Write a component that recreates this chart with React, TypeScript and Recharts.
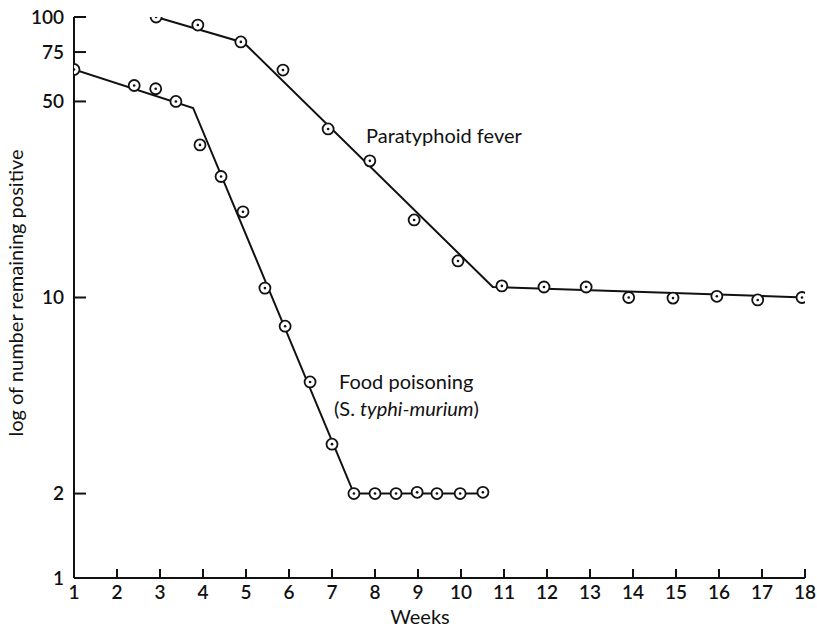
import React from 'react';
import { ComposedChart, Line, Scatter, XAxis, YAxis } from 'recharts';

// observed points (weeks, number remaining positive)
const foodWeeks = [1, 2.4, 2.9, 3.37, 3.93, 4.42, 4.93, 5.44, 5.91, 6.49, 7.0, 7.51, 8.0, 8.49, 8.98, 9.44, 9.98, 10.51];
const foodValues = [65, 57, 55.5, 50, 35, 27, 20.2, 10.8, 7.9, 5.0, 3.0, 2.0, 2.0, 2.0, 2.02, 2.0, 2.0, 2.02];

const paraWeeks = [2.91, 3.88, 4.88, 5.86, 6.91, 7.88, 8.91, 9.93, 10.95, 11.93, 12.91, 13.9, 14.93, 15.95, 16.9, 17.93];
const paraValues = [100, 93.6, 81.5, 64.7, 39.9, 30.7, 18.9, 13.5, 11.0, 10.9, 10.9, 10.0, 9.95, 10.1, 9.8, 10.0];

// fitted broken lines
const foodFitWeeks = [1, 3.77, 7.51, 10.51];
const foodFitValues = [65, 47.4, 2.0, 2.0];
const paraFitWeeks = [2.91, 4.95, 10.74, 18];
const paraFitValues = [100, 81, 10.9, 10.0];

const xTicks = [1, 2, 3, 4, 5, 6, 7, 8, 9, 10, 11, 12, 13, 14, 15, 16, 17, 18];
const yTicks = [1, 2, 10, 50, 75, 100];

const toRows = (w: number[], v: number[]) => w.map((wk, i) => ({ w: wk, v: v[i] }));

const font = 'Lato, "Open Sans", sans-serif';

const Marker = (props: any) => {
  const { cx, cy } = props;
  if (cx == null || cy == null) return null;
  return (
    <g>
      <circle cx={cx} cy={cy} r={5.5} fill="#fff" stroke="#111" strokeWidth={1.8} />
      <circle cx={cx} cy={cy} r={1.3} fill="#111" />
    </g>
  );
};

const tickStyle = { fontSize: 19, fill: '#111', fontFamily: font, fontWeight: 600 };

export default function App() {
  return (
    <div style={{ position: 'absolute', left: 0, top: 0, width: 817, height: 628, background: '#fff', fontFamily: font, color: '#111', overflow: 'hidden' }}>
      <ComposedChart width={817} height={628} margin={{ top: 17, right: 12, bottom: 10, left: 14 }}>
        <XAxis
          type="number"
          dataKey="w"
          domain={[1, 18]}
          ticks={xTicks}
          interval={0}
          allowDataOverflow
          stroke="#111"
          strokeWidth={2}
          tickSize={-9}
          tickMargin={17}
          tick={tickStyle}
          height={40}
        />
        <YAxis
          type="number"
          dataKey="v"
          scale="log"
          domain={[1, 100]}
          ticks={yTicks}
          interval={0}
          allowDataOverflow
          stroke="#111"
          strokeWidth={2}
          tickSize={-12}
          tickMargin={22}
          tick={tickStyle}
          width={60}
        />
        <Line data={toRows(foodFitWeeks, foodFitValues)} dataKey="v" type="linear" stroke="#111" strokeWidth={2} dot={false} isAnimationActive={false} />
        <Line data={toRows(paraFitWeeks, paraFitValues)} dataKey="v" type="linear" stroke="#111" strokeWidth={2} dot={false} isAnimationActive={false} />
        <Scatter data={toRows(foodWeeks, foodValues)} dataKey="v" shape={Marker} isAnimationActive={false} />
        <Scatter data={toRows(paraWeeks, paraValues)} dataKey="v" shape={Marker} isAnimationActive={false} />
      </ComposedChart>

      <div style={{ position: 'absolute', left: 15, top: 293, transform: 'translate(-50%, -50%) rotate(-90deg)', whiteSpace: 'nowrap', fontSize: 20, lineHeight: 1 }}>
        log of number remaining positive
      </div>
      <div style={{ position: 'absolute', left: 420, top: 616, transform: 'translate(-50%, -50%)', fontSize: 20, lineHeight: 1 }}>Weeks</div>
      <div style={{ position: 'absolute', left: 366, top: 135, transform: 'translateY(-50%)', whiteSpace: 'nowrap', fontSize: 20, lineHeight: 1 }}>
        Paratyphoid fever
      </div>
      <div style={{ position: 'absolute', left: 339, top: 381, transform: 'translateY(-50%)', whiteSpace: 'nowrap', fontSize: 20, lineHeight: 1 }}>
        Food poisoning
      </div>
      <div style={{ position: 'absolute', left: 334, top: 408, transform: 'translateY(-50%)', whiteSpace: 'nowrap', fontSize: 20, lineHeight: 1 }}>
        (S. <i>typhi-murium</i>)
      </div>
    </div>
  );
}
